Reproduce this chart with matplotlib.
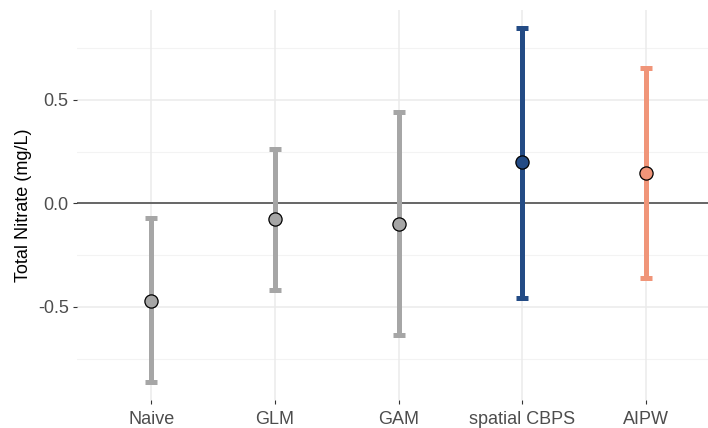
import matplotlib
matplotlib.use("Agg")
import matplotlib.pyplot as plt

plt.rcParams['font.family'] = ['Liberation Sans', 'DejaVu Sans']
plt.rcParams['axes.unicode_minus'] = False

# --- datos ---
metodos = ['Naive', 'GLM', 'GAM', 'spatial CBPS', 'AIPW']
estimado = [-0.47, -0.077, -0.097, 0.198, 0.145]
inferior = [-0.865, -0.42, -0.638, -0.455, -0.362]
superior = [-0.068, 0.262, 0.444, 0.850, 0.657]
colores = ['#A6A6A6', '#A6A6A6', '#A6A6A6', '#234B85', '#F09579']

fig = plt.figure(figsize=(7.08, 4.28), dpi=100)
ax = fig.add_axes([77 / 708, 28 / 428, (720 - 77) / 708, (400 - 10) / 428])

# grilla estilo theme_minimal
for y in [-0.75, -0.25, 0.25, 0.75]:
    ax.axhline(y, color='#F3F3F3', lw=0.8, zorder=0)
for y in [-0.5, 0.0, 0.5]:
    ax.axhline(y, color='#EBEBEB', lw=1.1, zorder=0)
for i in range(len(metodos)):
    ax.axvline(i, color='#EBEBEB', lw=1.1, zorder=0)

ax.axhline(0, color='#666666', lw=1.4, zorder=1)

for i, m in enumerate(metodos):
    ax.errorbar(i, estimado[i],
                yerr=[[estimado[i] - inferior[i]], [superior[i] - estimado[i]]],
                fmt='none', ecolor=colores[i], elinewidth=3.6,
                capsize=4.5, capthick=3.6, zorder=2)
    ax.plot(i, estimado[i], 'o', ms=9.5, mfc=colores[i], mec='black',
            mew=0.9, zorder=3)

ax.set_xlim(-0.6, 4.6)
ax.set_ylim(-0.95, 0.935)
ax.set_xticks(range(len(metodos)))
ax.set_xticklabels(metodos)
ax.set_yticks([-0.5, 0.0, 0.5])
ax.set_yticklabels(['-0.5', '0.0', '0.5'])
ax.tick_params(axis='both', colors='#333333', labelcolor='#4D4D4D',
               labelsize=13, length=3, width=0.8, pad=3)
ax.tick_params(axis='x', pad=5)
ax.set_ylabel('Total Nitrate (mg/L)', fontsize=13, color='black', labelpad=4)

for s in ax.spines.values():
    s.set_visible(False)

fig.savefig('out.png', dpi=100)
